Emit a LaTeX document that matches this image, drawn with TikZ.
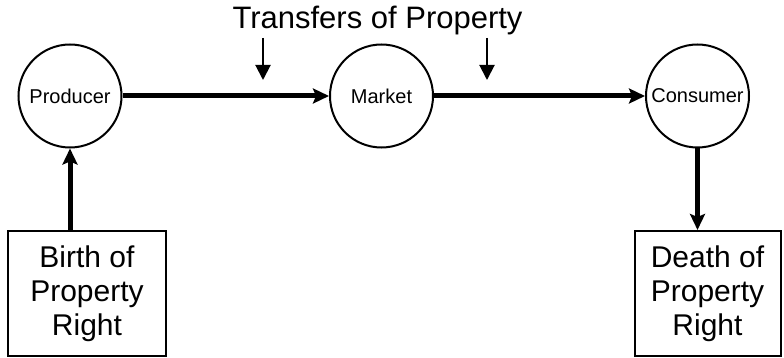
\documentclass[tikz,border=0pt]{standalone}
\usepackage{fontspec}
\setmainfont{Liberation Sans}
\usetikzlibrary{arrows.meta}

\begin{document}
\begin{tikzpicture}[x=1pt, y=-1pt, node distance=313pt,
  station/.style={draw, circle, line width=2pt, minimum size=103pt, inner sep=0pt, font=\fontsize{20}{24}\selectfont},
  rightbox/.style={draw, line width=2pt, minimum height=125pt, align=center, font=\fontsize{30}{34}\selectfont},
  flow/.style={-{Stealth[length=16pt, width=15pt, inset=3pt]}, line width=5pt},
  transfer/.style={-{Triangle[length=15pt, width=15pt]}, line width=2pt}]

  \useasboundingbox (0,0) rectangle (784,358);

  % Circles
  \node[station] (P) at (70,96) {Producer};
  \node[station, right of=P, xshift=-1.5pt] (M) {Market};
  \node[station, right of=M, xshift=3pt] (C) {Consumer};

  % Boxes
  \node[rightbox, minimum width=158pt, node distance=197.5pt, below of=P, xshift=17pt] (B) {Birth of\\Property\\Right};
  \node[rightbox, minimum width=146pt, node distance=197.5pt, below of=C, xshift=10pt] (D) {Death of\\Property\\Right};

  % Label
  \node[font=\fontsize{31}{36}\selectfont, anchor=base] (T) at (377.5,29) {Transfers of Property};
  \coordinate (t1) at (263,38);
  \coordinate (t1e) at (263,80);
  \coordinate (t2) at (487,38);
  \coordinate (t2e) at (487,80);

  % Arrows
  \draw[flow] (P) -- (M);
  \draw[flow] (M) -- (C);
  \draw[flow] (B.north -| P.south) -- (P.south);
  \draw[flow] (C.south) -- (C.south |- D.north);
  \draw[transfer] (t1) -- (t1e);
  \draw[transfer] (t2) -- (t2e);

\end{tikzpicture}
\end{document}
